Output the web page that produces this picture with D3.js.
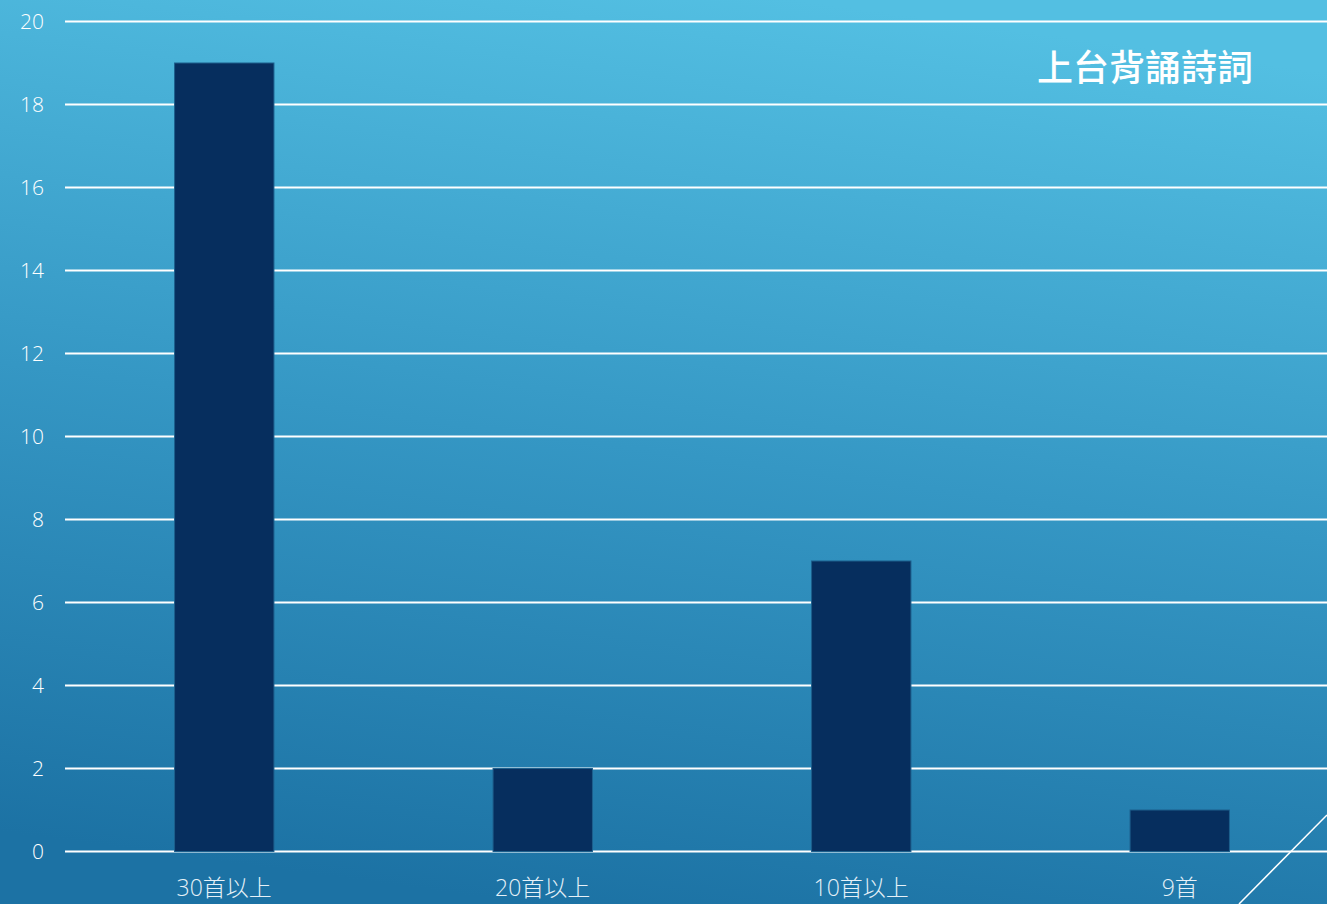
<!DOCTYPE html>
<html lang="zh-Hant">
<head>
    <meta charset="UTF-8">
    <title>上台背誦詩詞</title>
    <style>
        html, body { margin: 0; padding: 0; overflow: hidden; }
        body { width: 1327px; height: 904px; }
    </style>
</head>
<body>
    <div id="chart"></div>

    <script src="https://d3js.org/d3.v7.min.js"></script>
    <script>
        // Data
        const categories = ["30首以上", "20首以上", "10首以上", "9首"];
        const counts = [19, 2, 7, 1];
        const yTicks = [0, 2, 4, 6, 8, 10, 12, 14, 16, 18, 20];
        const title = "上台背誦詩詞";

        const width = 1327;
        const height = 904;

        const svg = d3.select("#chart")
            .append("svg")
            .attr("width", width)
            .attr("height", height);

        // Background gradient
        const defs = svg.append("defs");
        const grad = defs.append("linearGradient")
            .attr("id", "bg")
            .attr("x1", "0.6").attr("y1", "0")
            .attr("x2", "0.4").attr("y2", "1");
        grad.append("stop").attr("offset", "0%").attr("stop-color", "#53bfe2");
        grad.append("stop").attr("offset", "50%").attr("stop-color", "#3597c4");
        grad.append("stop").attr("offset", "100%").attr("stop-color", "#1c72a4");

        svg.append("rect")
            .attr("width", width)
            .attr("height", height)
            .attr("fill", "url(#bg)");

        // Scales
        const x = d3.scaleBand()
            .domain(categories)
            .range([65, 1339])
            .padding(0);

        const y = d3.scaleLinear()
            .domain([0, 20])
            .range([851.5, 21.5]);

        const barWidth = x.bandwidth() * 0.312;

        // Gridlines
        svg.append("g")
            .selectAll("line")
            .data(yTicks)
            .enter()
            .append("line")
            .attr("x1", 65)
            .attr("x2", width)
            .attr("y1", d => y(d))
            .attr("y2", d => y(d))
            .attr("stroke", "#ffffff")
            .attr("stroke-width", 2);

        // Y tick labels
        svg.append("g")
            .selectAll("text")
            .data(yTicks)
            .enter()
            .append("text")
            .attr("x", 44)
            .attr("y", d => y(d))
            .attr("dy", "0.36em")
            .attr("text-anchor", "end")
            .attr("fill", "#ffffff")
            .style("font-family", "'Open Sans', 'DejaVu Sans', sans-serif")
            .style("font-size", "21px")
            .style("font-weight", 300)
            .text(d => d);

        // X labels
        svg.append("g")
            .selectAll("text")
            .data(categories)
            .enter()
            .append("text")
            .attr("x", d => x(d) + x.bandwidth() / 2)
            .attr("y", 896)
            .attr("text-anchor", "middle")
            .attr("fill", "#e6f1f8")
            .style("font-family", "'Open Sans', 'Noto Sans CJK TC', sans-serif")
            .style("font-size", "23px")
            .style("font-weight", 300)
            .text(d => d);

        // Bars
        svg.append("g")
            .selectAll("rect")
            .data(counts)
            .enter()
            .append("rect")
            .attr("x", (d, i) => x(categories[i]) + x.bandwidth() / 2 - barWidth / 2)
            .attr("y", d => y(d))
            .attr("width", barWidth)
            .attr("height", d => y(0) - y(d))
            .attr("fill", "#062e5e")
            .attr("stroke", "#1d5f8c")
            .attr("stroke-width", 1);

        // Title
        svg.append("text")
            .attr("x", 1145)
            .attr("y", 81)
            .attr("text-anchor", "middle")
            .attr("fill", "#ffffff")
            .style("font-family", "'Noto Sans CJK TC', sans-serif")
            .style("font-size", "36px")
            .style("font-weight", 500)
            .text(title);

        // Decorative corner line
        svg.append("line")
            .attr("x1", 1239).attr("y1", 904)
            .attr("x2", 1327).attr("y2", 815)
            .attr("stroke", "#ffffff")
            .attr("stroke-width", 1.5);
    </script>
</body>
</html>
